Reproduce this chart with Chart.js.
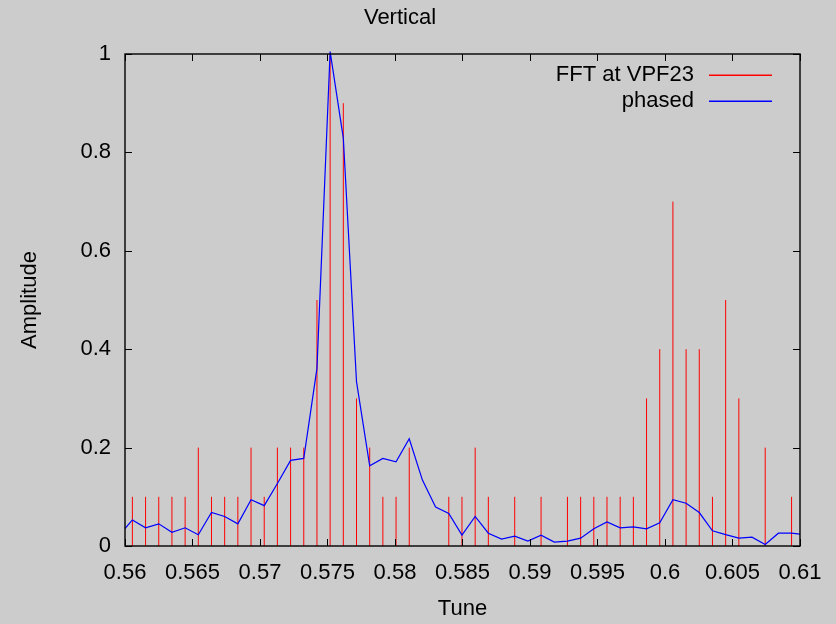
<!DOCTYPE html>
<html>
<head>
<meta charset="utf-8">
<script src="https://cdn.jsdelivr.net/npm/chart.js@4/dist/chart.umd.min.js"></script>
<style>
  html, body { margin: 0; padding: 0; background: #cccccc; }
  #wrap { width: 836px; height: 624px; }
</style>
</head>
<body>
<div id="wrap"><canvas id="chart"></canvas></div>
<script>
// FFT bins (1024 point FFT), tune = bin / fftLength
const fftLength = 1024;

// red impulses: FFT at VPF23
const fftBins = [574, 575, 576, 577, 578, 579, 580, 581, 582, 583, 584, 585, 586, 587, 588, 589, 590,
  591, 592, 593, 594, 595, 598, 599, 600, 601, 603, 605, 607, 608, 609, 610, 611, 612,
  613, 614, 615, 616, 617, 618, 619, 620, 622, 624];
const fftValues = [0.1, 0.1, 0.1, 0.1, 0.1, 0.2, 0.1, 0.1, 0.1, 0.2, 0.1, 0.2, 0.2, 0.2, 0.5, 1.0, 0.9,
  0.3, 0.2, 0.1, 0.1, 0.2, 0.1, 0.1, 0.2, 0.1, 0.1, 0.1, 0.1, 0.1, 0.1, 0.1, 0.1, 0.1,
  0.3, 0.4, 0.7, 0.4, 0.4, 0.1, 0.5, 0.3, 0.2, 0.1];

// blue line: phased
const phasedBins = [573, 574, 575, 576, 577, 578, 579, 580, 581, 582, 583, 584, 585, 586, 587, 588,
  589, 590, 591, 592, 593, 594, 595, 596, 597, 598, 599, 600, 601, 602, 603, 604, 605, 606,
  607, 608, 609, 610, 611, 612, 613, 614, 615, 616, 617, 618, 619, 620, 621, 622, 623, 624, 625];
const phasedValues = [0.022, 0.053, 0.037, 0.045, 0.028, 0.037, 0.023, 0.068, 0.060, 0.045, 0.094, 0.082,
  0.127, 0.174, 0.178, 0.361, 1.005, 0.829, 0.334, 0.163, 0.178, 0.171, 0.218, 0.134, 0.079,
  0.066, 0.022, 0.060, 0.026, 0.014, 0.020, 0.010, 0.022, 0.008, 0.010, 0.016, 0.035, 0.049,
  0.037, 0.039, 0.035, 0.047, 0.094, 0.087, 0.068, 0.031, 0.023, 0.016, 0.018, 0.003, 0.026,
  0.026, 0.023];

const xTicks = [0.56, 0.565, 0.57, 0.575, 0.58, 0.585, 0.59, 0.595, 0.6, 0.605, 0.61];
const yTicks = [0, 0.2, 0.4, 0.6, 0.8, 1];

const FFT_COLOR = '#ff0000';
const PHASED_COLOR = '#0000ff';
const FONT = "'Liberation Sans', Arial, sans-serif";

// impulses: each one goes 0 -> value, then a gap
const impulsePoints = [];
fftBins.forEach((b, i) => {
  const t = b / fftLength;
  impulsePoints.push({ x: t, y: 0 }, { x: t, y: fftValues[i] }, { x: t, y: null });
});

// gnuplot style frame with inward ticks on all four sides, and the key
const framePlugin = {
  id: 'frame',
  afterDraw(chart) {
    const ctx = chart.ctx;
    const a = chart.chartArea;
    const xs = chart.scales.x, ys = chart.scales.y;
    const tl = 7;
    ctx.save();
    ctx.strokeStyle = '#000';
    ctx.lineWidth = 1;
    ctx.beginPath();
    xTicks.forEach(v => {
      const px = Math.round(xs.getPixelForValue(v)) + 0.5;
      ctx.moveTo(px, a.bottom); ctx.lineTo(px, a.bottom - tl);
      ctx.moveTo(px, a.top); ctx.lineTo(px, a.top + tl);
    });
    yTicks.forEach(v => {
      const py = Math.round(ys.getPixelForValue(v)) + 0.5;
      ctx.moveTo(a.left, py); ctx.lineTo(a.left + tl, py);
      ctx.moveTo(a.right, py); ctx.lineTo(a.right - tl, py);
    });
    ctx.stroke();
    ctx.lineWidth = 1.4;
    ctx.strokeRect(a.left, a.top, a.right - a.left, a.bottom - a.top);

    const keys = [['FFT at VPF23', FFT_COLOR], ['phased', PHASED_COLOR]];
    ctx.font = '22px ' + FONT;
    ctx.textAlign = 'right';
    ctx.textBaseline = 'middle';
    keys.forEach(([label, color], i) => {
      const y = 75 + i * 26;
      ctx.fillStyle = '#000';
      ctx.fillText(label, 694, y);
      ctx.fillStyle = color;
      ctx.fillRect(709, y - 0.5, 63, 1.5);
    });
    ctx.restore();
  }
};

function renderChart() {
  const ctx = document.querySelector('#chart').getContext('2d');
  new Chart(ctx, {
    type: 'line',
    data: {
      datasets: [
        {
          label: 'phased',
          data: phasedBins.map((b, i) => ({ x: b / fftLength, y: phasedValues[i] })),
          borderColor: PHASED_COLOR,
          borderWidth: 1.2,
          pointRadius: 0,
          tension: 0,
          fill: false,
          clip: { left: 0, right: 0, top: 4, bottom: 0 },
          order: 0
        },
        {
          label: 'FFT at VPF23',
          data: impulsePoints,
          borderColor: FFT_COLOR,
          borderWidth: 1,
          pointRadius: 0,
          tension: 0,
          fill: false,
          spanGaps: false,
          order: 1
        }
      ]
    },
    options: {
      responsive: true,
      maintainAspectRatio: false,
      animation: false,
      devicePixelRatio: 1,
      layout: { padding: { left: 0, right: 36, top: 0, bottom: 0 } },
      plugins: {
        legend: { display: false },
        tooltip: { enabled: false },
        title: {
          display: true,
          text: 'Vertical',
          color: '#000',
          font: { family: FONT, size: 22, weight: 'normal' },
          padding: { top: 5, bottom: 22.6 }
        }
      },
      scales: {
        x: {
          type: 'linear',
          min: 0.56,
          max: 0.61,
          afterFit: s => { s.height = 78; },
          afterBuildTicks: s => { s.ticks = xTicks.map(v => ({ value: v })); },
          grid: { display: false, drawTicks: false },
          border: { display: false },
          ticks: {
            color: '#000',
            padding: 14,
            maxRotation: 0,
            autoSkip: false,
            font: { family: FONT, size: 22 },
            callback: v => String(+v.toFixed(3))
          },
          title: {
            display: true,
            text: 'Tune',
            color: '#000',
            font: { family: FONT, size: 22 },
            padding: { top: 0, bottom: 2 }
          }
        },
        y: {
          type: 'linear',
          min: 0,
          max: 1,
          afterFit: s => { s.width = 125; },
          afterBuildTicks: s => { s.ticks = yTicks.map(v => ({ value: v })); },
          grid: { display: false, drawTicks: false },
          border: { display: false },
          ticks: {
            color: '#000',
            padding: 14,
            font: { family: FONT, size: 22 },
            callback: v => String(+v.toFixed(1))
          },
          title: {
            display: true,
            text: 'Amplitude',
            color: '#000',
            font: { family: FONT, size: 22 },
            padding: { top: 17, bottom: 0 }
          }
        }
      }
    },
    plugins: [framePlugin]
  });
}
renderChart();
</script>
</body>
</html>
